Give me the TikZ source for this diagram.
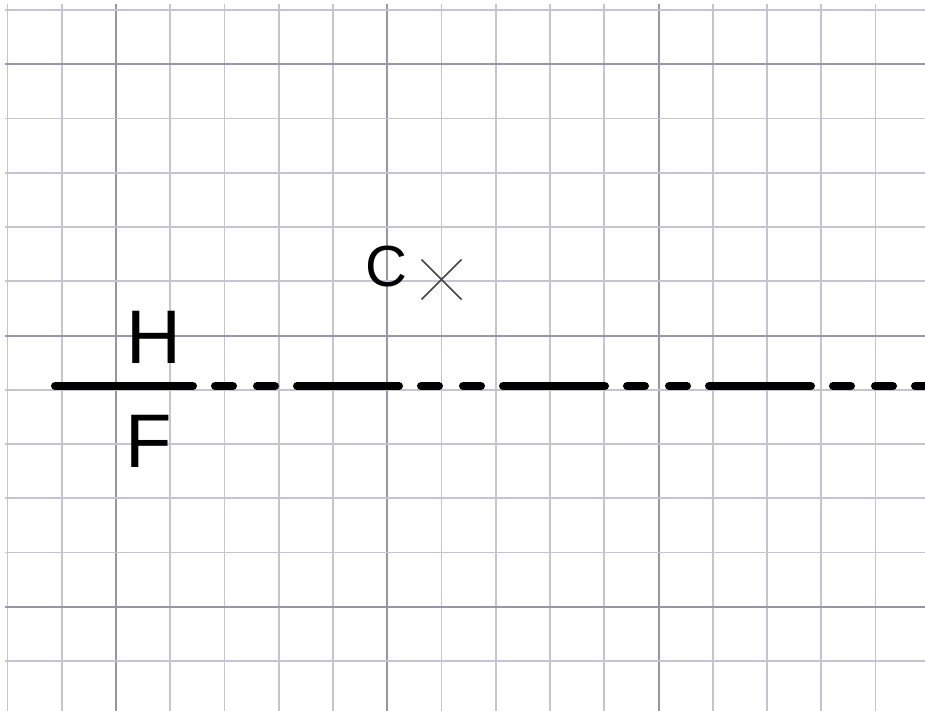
\documentclass[tikz,border=0pt]{standalone}
\usepackage{fontspec}
\setmainfont{Liberation Sans}
\usetikzlibrary{calc}
\begin{document}
\begin{tikzpicture}[x=1pt,y=-1pt,
  gridlight/.style={draw={rgb,255:red,196;green,196;blue,210}, line width=1.8pt},
  griddark/.style={draw={rgb,255:red,150;green,150;blue,168}, line width=2pt},
  thickline/.style={line width=8pt, line cap=round, black},
  bigletter/.style={inner sep=0pt, font=\fontsize{76}{76}\selectfont},
  midletter/.style={inner sep=0pt, font=\fontsize{58}{58}\selectfont},
  crossmark/.style={draw={rgb,255:red,70;green,70;blue,70}, line width=1.5pt}]
\useasboundingbox (0,0) rectangle (925,711);
\fill[white] (0,0) rectangle (925,711);
\begin{scope}
\clip (0,0) rectangle (925,711);
% grid
\foreach \k in {0,...,16}{
  \pgfmathsetmacro{\xx}{7.5+54.25*\k}
  \pgfmathtruncatemacro{\m}{mod(\k,5)}
  \ifnum\m=2
    \draw[griddark] (\xx,4) -- (\xx,711);
  \else
    \draw[gridlight] (\xx,4) -- (\xx,711);
  \fi
}
\foreach \k in {0,...,12}{
  \pgfmathsetmacro{\yy}{10+54.25*\k}
  \pgfmathtruncatemacro{\m}{mod(\k,5)}
  \ifnum\m=1
    \draw[griddark] (5,\yy) -- (925,\yy);
  \else
    \draw[gridlight] (5,\yy) -- (925,\yy);
  \fi
}
% center line
\coordinate (lineA) at (55,386);
\coordinate (lineB) at (193,386);
\coordinate (lineC) at (215,386);
\coordinate (lineD) at (940,386);
\draw[thickline] (lineA) -- (lineB);
\draw[thickline, dash pattern=on 18pt off 24pt on 18pt off 22pt on 102pt off 22pt] (lineC) -- (lineD);
\end{scope}
% labels
\node[bigletter] (H) at (153.5,337) {H};
\node[bigletter] (F) at (149,441.5) {F};
\node[midletter] (C) at (386,267) {C};
% cross mark
\coordinate (X) at (441.5,279.5);
\draw[crossmark] ($(X)+(-20,-20)$) -- ($(X)+(20,20)$);
\draw[crossmark] ($(X)+(-20,20)$) -- ($(X)+(20,-20)$);
\end{tikzpicture}
\end{document}
